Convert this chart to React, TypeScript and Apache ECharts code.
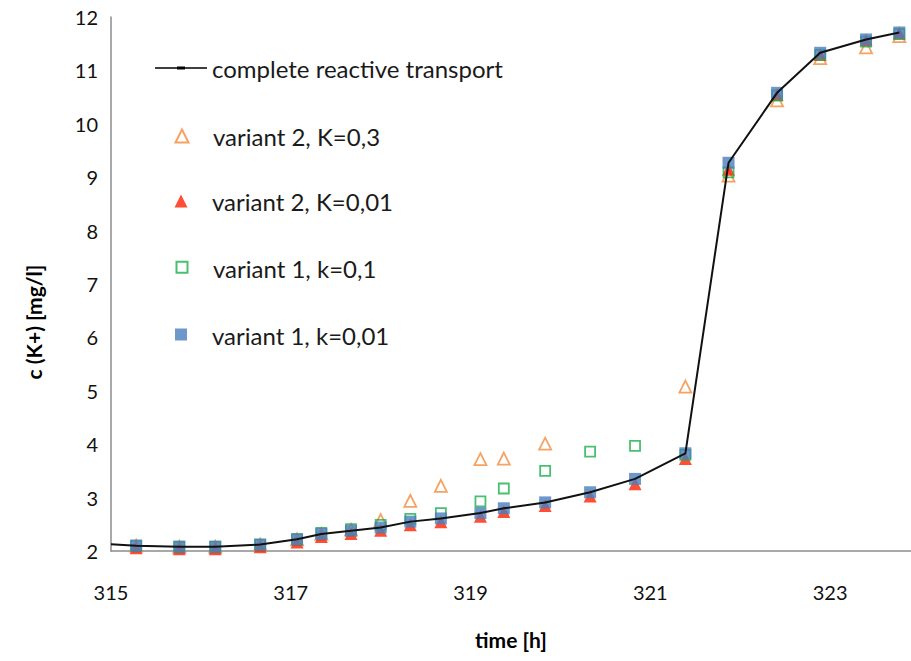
import React, { useEffect, useRef } from "react";
import * as echarts from "echarts";

// time [h] of the sampled points
const times = [315.28, 315.76, 316.16, 316.66, 317.07, 317.34, 317.67, 318.0, 318.33, 318.67, 319.11, 319.37, 319.83, 320.33, 320.83, 321.39, 321.87, 322.41, 322.89, 323.4, 323.77];

// complete reactive transport (line)
const lineTimes = [315.0, 315.28, 315.76, 316.16, 316.66, 317.07, 317.34, 317.67, 318.0, 318.33, 318.67, 319.11, 319.37, 319.83, 320.33, 320.83, 321.39, 321.87, 322.41, 322.89, 323.4, 323.77];
const lineValues = [2.125, 2.1, 2.08, 2.08, 2.12, 2.22, 2.32, 2.38, 2.44, 2.55, 2.61, 2.71, 2.8, 2.91, 3.1, 3.35, 3.83, 9.27, 10.58, 11.33, 11.58, 11.71];

// variant 2, K=0,3
const v2K03 = [2.1, 2.08, 2.08, 2.12, 2.22, 2.32, 2.4, 2.58, 2.94, 3.22, 3.72, 3.73, 4.01, null, null, 5.08, 9.03, 10.44, 11.23, 11.43, 11.64];
// variant 2, K=0,01
const v2K001 = [2.06, 2.04, 2.04, 2.08, 2.17, 2.27, 2.33, 2.39, 2.49, 2.55, 2.65, 2.74, 2.85, 3.03, 3.26, 3.73, 9.15, 10.55, 11.3, 11.57, 11.7];
// variant 1, k=0,1
const v1k01 = [2.1, 2.08, 2.08, 2.12, 2.22, 2.34, 2.41, 2.49, 2.6, 2.71, 2.93, 3.17, 3.5, 3.86, 3.97, 3.8, 9.09, 10.53, 11.29, 11.54, 11.68];
// variant 1, k=0,01
const v1k001 = [2.1, 2.08, 2.08, 2.12, 2.22, 2.32, 2.38, 2.44, 2.55, 2.61, 2.71, 2.8, 2.91, 3.1, 3.35, 3.83, 9.27, 10.58, 11.33, 11.58, 11.71];

const seriesNames = [
  "complete reactive transport",
  "variant 2, K=0,3",
  "variant 2, K=0,01",
  "variant 1, k=0,1",
  "variant 1, k=0,01",
];
const legendCenters = [68, 136, 201, 268, 335];

const FONT = "Lato, 'Open Sans', sans-serif";

function pairs(xs: number[], ys: (number | null)[]) {
  return xs.map((x, i) => [x, ys[i]]);
}

export default function App() {
  const ref = useRef<HTMLDivElement>(null);
  useEffect(() => {
    if (!ref.current) return;
    const chart = echarts.init(ref.current, undefined, { renderer: "svg" });
    const lineIcon = "path://M0,4.2 L52,4.2 L52,5.8 L0,5.8 Z M22,3.4 L30,3.4 L30,6.6 L22,6.6 Z";
    // symbol icons padded to the 52-wide legend box so they keep their shape, centred
    const triIcon = "path://M0,13 L0,12.99 Z M52,13 L52,12.99 Z M26,0 L32.5,13 L19.5,13 Z";
    const rectIcon = "path://M0,13 L0,12.99 Z M52,13 L52,12.99 Z M20,0 L32,0 L32,12 L20,12 Z";
    const rectIconS = "path://M0,13 L0,12.99 Z M52,13 L52,12.99 Z M20.5,0.5 L31.5,0.5 L31.5,11.5 L20.5,11.5 Z";
    const icons = [lineIcon, triIcon, triIcon, rectIconS, rectIcon];
    chart.setOption({
      animation: false,
      backgroundColor: "#ffffff",
      grid: { left: 111, right: 0, top: 17, bottom: 110, containLabel: false, outerBoundsMode: "none" },
      xAxis: {
        type: "value",
        min: 315,
        max: 323.9,
        interval: 1,
        name: "time [h]",
        nameLocation: "middle",
        nameGap: 78,
        nameTextStyle: { fontFamily: FONT, fontSize: 21, fontWeight: "bold", color: "#000" },
        axisLine: { show: true, lineStyle: { color: "#8c8c8c", width: 1.5 } },
        axisTick: { show: false },
        splitLine: { show: false },
        axisLabel: {
          margin: 31,
          fontFamily: FONT,
          fontSize: 20,
          color: "#111",
          showMaxLabel: false,
          formatter: (v: number) => {
            const r = Math.round(v);
            return Math.abs(v - r) < 1e-6 && (r - 315) % 2 === 0 ? String(r) : "";
          },
        },
      },
      yAxis: {
        type: "value",
        min: 2,
        max: 12,
        interval: 1,
        axisLine: { show: true, lineStyle: { color: "#8c8c8c", width: 1.5 } },
        axisTick: { show: false },
        splitLine: { show: false },
        axisLabel: { margin: 13, fontFamily: FONT, fontSize: 20, color: "#111" },
      },
      graphic: [
        {
          type: "text",
          x: 33,
          y: 322,
          rotation: Math.PI / 2,
          style: {
            text: "c (K+) [mg/l]",
            fontFamily: FONT,
            fontSize: 21,
            fontWeight: "bold",
            fill: "#000",
            align: "center",
            verticalAlign: "middle",
            textAlign: "center",
            textVerticalAlign: "middle",
          },
        },
      ],
      legend: seriesNames.map((n, i) => ({
        data: [{ name: n, icon: icons[i] }],
        left: 155,
        top: legendCenters[i] - 12,
        padding: 0,
        itemWidth: 52,
        itemHeight: 13,
        itemGap: 5,
        symbolKeepAspect: true,
        selectedMode: false,
        textStyle: { fontFamily: FONT, fontSize: 24, color: "#1a1a1a" },
      })),
      series: [
        {
          name: seriesNames[0],
          type: "line",
          data: pairs(lineTimes, lineValues),
          symbol: "none",
          color: "#000",
          itemStyle: { color: "#000" },
          lineStyle: { color: "#111", width: 2 },
        },
        {
          name: seriesNames[1],
          type: "scatter",
          data: pairs(times, v2K03),
          symbol: "triangle",
          symbolSize: 12,
          itemStyle: { color: "rgba(255,255,255,0)", borderColor: "#F38B3C", borderWidth: 1.8 },
        },
        {
          name: seriesNames[2],
          type: "scatter",
          data: pairs(times, v2K001),
          symbol: "triangle",
          symbolSize: 13,
          itemStyle: { color: "#FF2200" },
        },
        {
          name: seriesNames[3],
          type: "scatter",
          data: pairs(times, v1k01),
          symbol: "rect",
          symbolSize: 10,
          itemStyle: { color: "rgba(255,255,255,0)", borderColor: "#1DAF4E", borderWidth: 1.8 },
        },
        {
          name: seriesNames[4],
          type: "scatter",
          data: pairs(times, v1k001),
          symbol: "rect",
          symbolSize: 12,
          itemStyle: { color: "#4A7EBB" },
        },
      ],
    });
    return () => chart.dispose();
  }, []);
  return (
    <div
      ref={ref}
      style={{ position: "fixed", left: 0, top: 0, width: 911, height: 661, background: "#fff" }}
    />
  );
}
